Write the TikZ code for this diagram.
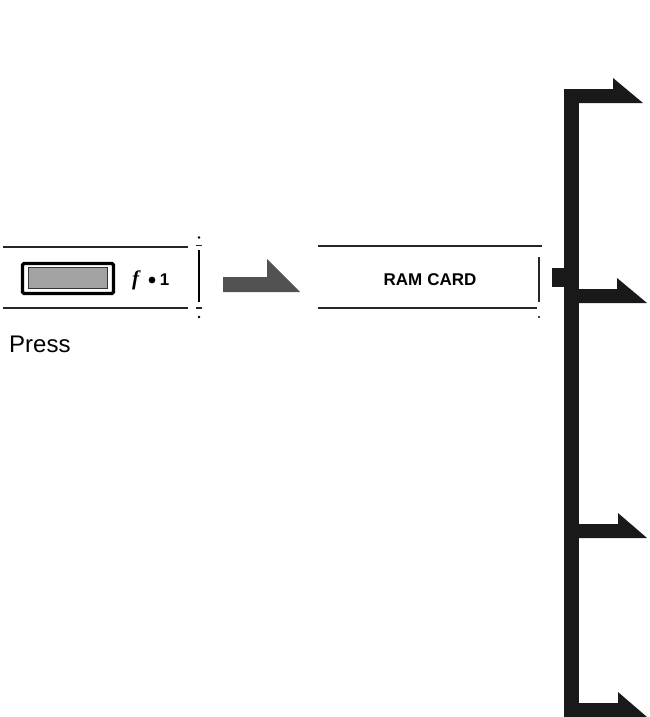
\documentclass[tikz,border=0pt]{standalone}
\usepackage{fontspec}
\setmainfont{Liberation Sans}
\newfontfamily\keyserif{Liberation Serif}
\begin{document}
\begin{tikzpicture}[x=1pt,y=-1pt,
  rule/.style={line width=1.4pt, draw=black!85},
  thinrule/.style={line width=1.1pt, draw=black!85},
  blackarrow/.style={fill=black!90, draw=none},
  grayarrow/.style={fill=black!68, draw=none},
  labeltext/.style={inner sep=0pt, text=black}]
\useasboundingbox (0,0) rectangle (650,717);
\fill[white] (0,0) rectangle (650,717);

% left display strip
\draw[rule] (3,247) -- (188,247);
\draw[rule] (3,308) -- (188,308);
\fill (199,237.5) circle (1.4pt);
\draw[thinrule] (196,245.5) -- (202,245.5);
\draw[line width=2pt] (199,250) -- (199,302);
\draw[thinrule] (196,308) -- (202,308);
\fill (199,317) circle (1.4pt);

% key
\node[draw=black, line width=3.2pt, rounded corners=1.5pt, minimum width=91pt, minimum height=30pt, inner sep=0pt] (key) at (68,278.5) {};
\node[draw=black!80, fill=black!36, line width=0.8pt, minimum width=79pt, minimum height=21pt, inner sep=0pt] (keyface) at (68,278) {};
\node[labeltext, anchor=base] (fkey) at (135.5,285) {\fontsize{21}{21}\selectfont\keyserif\bfseries\itshape f};
\fill (152,280) circle (3.4pt);
\node[labeltext, anchor=base] (onekey) at (164.5,285.5) {\fontsize{17}{17}\selectfont\bfseries 1};

% Press
\node[labeltext, anchor=base west] (press) at (9,352) {\fontsize{24}{24}\selectfont Press};

% gray arrow
\coordinate (ga1) at (223,277);
\coordinate (ga2) at (267,277);
\coordinate (ga3) at (267,259);
\coordinate (ga4) at (300,292);
\coordinate (ga5) at (223,292);
\fill[grayarrow] (ga1) -- (ga2) -- (ga3) -- (ga4) -- (ga5) -- cycle;

% right display strip
\draw[rule] (318,246) -- (542,246);
\draw[rule] (318,308) -- (537,308);
\draw[thinrule] (539,257) -- (539,302);
\fill (539,317) circle (1.1pt);
\node[labeltext] (ramcard) at (430,280) {\fontsize{17}{17}\selectfont\bfseries RAM\hspace{0.3em}CARD};

% tab
\fill[black!90] (552,268) rectangle (565,287);

% vertical trunk
\fill[blackarrow] (564,89) rectangle (579,717);

% branch arrows
\foreach \t/\xe/\tip [count=\i] in {89/613/643, 289/617/647, 524/618/647, 703/618/647}{
  \coordinate (b\i a) at (570,\t);
  \coordinate (b\i b) at (\xe,\t);
  \coordinate (b\i c) at (\xe,\t-11);
  \coordinate (b\i d) at (\tip,\t+14);
  \coordinate (b\i e) at (570,\t+14);
  \fill[blackarrow] (b\i a) -- (b\i b) -- (b\i c) -- (b\i d) -- (b\i e) -- cycle;
}
\end{tikzpicture}
\end{document}
